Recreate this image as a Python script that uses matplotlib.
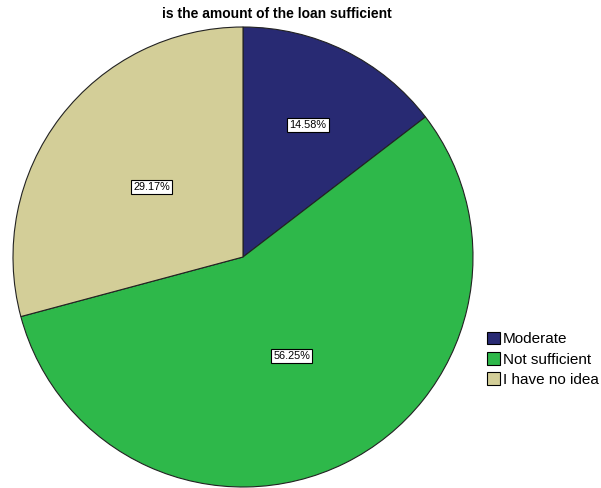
import numpy as np
import matplotlib.pyplot as plt
from matplotlib.patches import Patch

plt.rcParams['font.family'] = ['Liberation Sans', 'DejaVu Sans']

categories = ['Moderate', 'Not sufficient', 'I have no idea']
percents = [14.58, 56.25, 29.17]
colors = ['#282A73', '#2EB84A', '#D3CE98']
# how far from the centre each percentage box sits (fraction of radius)
label_dist = [0.64, 0.48, 0.50]

fig = plt.figure(figsize=(6.01, 4.88), dpi=100)
ax = fig.add_axes([13 / 601, 1 / 488, 460 / 601, 460 / 488])

wedges, _ = ax.pie(percents, colors=colors, startangle=90, counterclock=False,
                   wedgeprops=dict(edgecolor='#222222', linewidth=0.8))
ax.set_xlim(-1, 1)
ax.set_ylim(-1, 1)
ax.set_aspect('equal')

for w, p, d in zip(wedges, percents, label_dist):
    ang = np.deg2rad((w.theta1 + w.theta2) / 2)
    ax.text(d * np.cos(ang), d * np.sin(ang), f'{p:.2f}%', ha='center', va='center',
            fontsize=7.8,
            bbox=dict(boxstyle='square,pad=0.2', fc='white', ec='black', lw=0.8))

fig.text(277 / 601, 1 - 14 / 488, 'is the amount of the loan sufficient',
         ha='center', va='center', fontsize=10, fontweight='bold')

handles = [Patch(facecolor=c, edgecolor='black', linewidth=0.8) for c in colors]
fig.legend(handles, categories, loc='upper left', bbox_to_anchor=(485 / 601, 1 - 330 / 488),
           frameon=False, fontsize=11, handlelength=0.9, handleheight=0.9,
           handletextpad=0.15, labelspacing=0.38, borderpad=0.1, borderaxespad=0)

fig.savefig('out.png', dpi=100)
